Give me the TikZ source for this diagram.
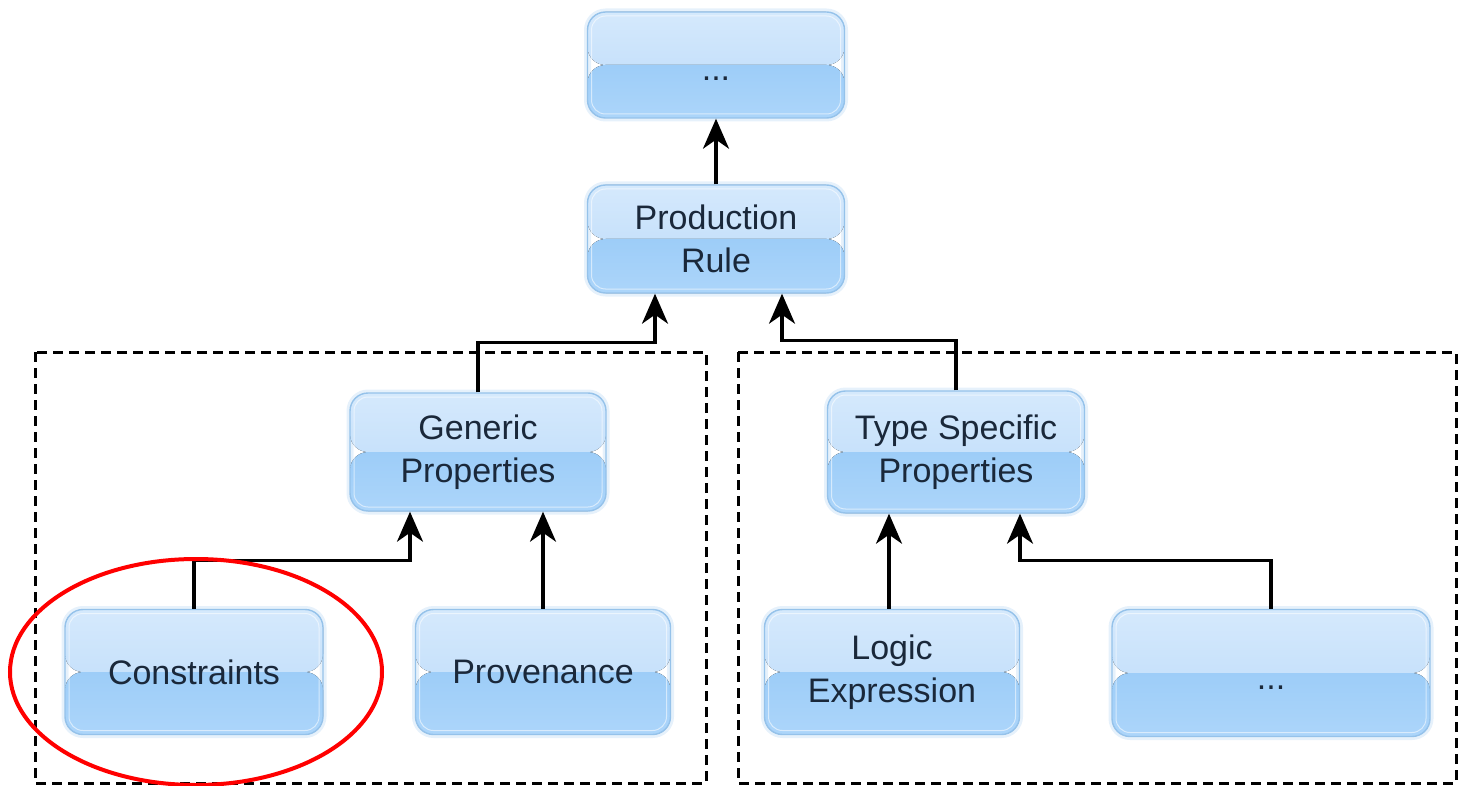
\documentclass[tikz,border=0pt]{standalone}
\usepackage{fontspec}
\setmainfont{Liberation Sans}
\usetikzlibrary{arrows.meta,calc,shapes.geometric}

\definecolor{boxtop}{HTML}{D5E9FC}
\definecolor{boxmid}{HTML}{BADAFA}
\definecolor{boxlow}{HTML}{9DCDF8}
\definecolor{boxbase}{HTML}{ACD5FA}
\definecolor{boxedge}{HTML}{95C2EA}
\definecolor{boxglow}{HTML}{E6F1FB}
\definecolor{txt}{HTML}{1A283A}

\tikzset{
  box/.style={
    rounded corners=18pt, draw=boxedge, line width=1.4pt,
    inner sep=0pt, align=center, text=txt,
    font=\fontsize{34}{43}\selectfont,
    preaction={draw=boxglow, line width=7pt},
    path picture={
      \fill[top color=boxtop, bottom color=boxmid]
        (path picture bounding box.north west) rectangle (path picture bounding box.east);
      \fill[top color=boxlow, bottom color=boxbase]
        (path picture bounding box.west) rectangle (path picture bounding box.south east);
      \draw[white, opacity=0.55, line width=1pt, rounded corners=14pt]
        ($(path picture bounding box.south west)+(4,4)$) rectangle ($(path picture bounding box.north east)+(-4,-4)$);
    }},
  conn/.style={line width=3.2pt, black, -{Stealth[length=30pt,width=26pt,inset=9pt]}},
  group/.style={dash pattern=on 10pt off 6pt, line width=3pt, black},
}

% placeholder label sitting low in its box
\newcommand{\elide}{\rule{0pt}{32pt}...}

\begin{document}
\begin{tikzpicture}[x=1pt,y=1pt]
  \useasboundingbox (0,0) rectangle (1458,-786);

  % grouping frames
  \draw[group] (35,-352) rectangle (706,-783);
  \draw[group] (738,-352) rectangle (1456,-783);

  % hierarchy nodes
  \node[box, minimum width=257pt, minimum height=106pt] (top) at (716,-65) {\elide};
  \node[box, minimum width=257pt, minimum height=108pt] (pr) at (716,-239) {Production\\Rule};
  \node[box, minimum width=256pt, minimum height=118pt] (gp) at (478,-452) {Generic\\Properties};
  \node[box, minimum width=257pt, minimum height=122pt] (tsp) at (956,-452) {Type Specific\\Properties};
  \node[box, minimum width=258pt, minimum height=125pt] (cons) at (194,-672) {Constraints};
  \node[box, minimum width=255pt, minimum height=125pt] (prov) at (543,-672) {Provenance};
  \node[box, minimum width=255pt, minimum height=125pt] (logic) at (892,-672) {Logic\\Expression};
  \node[box, minimum width=318pt, minimum height=127pt] (more) at (1271,-673) {\elide};

  % connectors
  \draw[conn] (pr.north) -- (top.south);
  \draw[conn] (gp.north) -- ++(0,50) -| ($(pr.south)+(-61,0)$);
  \draw[conn] (tsp.north) -- ++(0,50) -| ($(pr.south)+(66,0)$);
  \draw[conn] (cons.north) -- ++(0,48) -| ($(gp.south)+(-68,0)$);
  \draw[conn] (prov.north) -- (prov.north |- gp.south);
  \draw[conn] ($(logic.north)+(-3,0)$) -- ($(logic.north |- tsp.south)+(-3,0)$);
  \draw[conn] (more.north) -- ++(0,48) -| ($(tsp.south)+(64,0)$);

  % highlight
  \node[draw=red, line width=4pt, ellipse, minimum width=372pt, minimum height=226pt, inner sep=0pt] (mark) at (196,-672) {};
\end{tikzpicture}
\end{document}
